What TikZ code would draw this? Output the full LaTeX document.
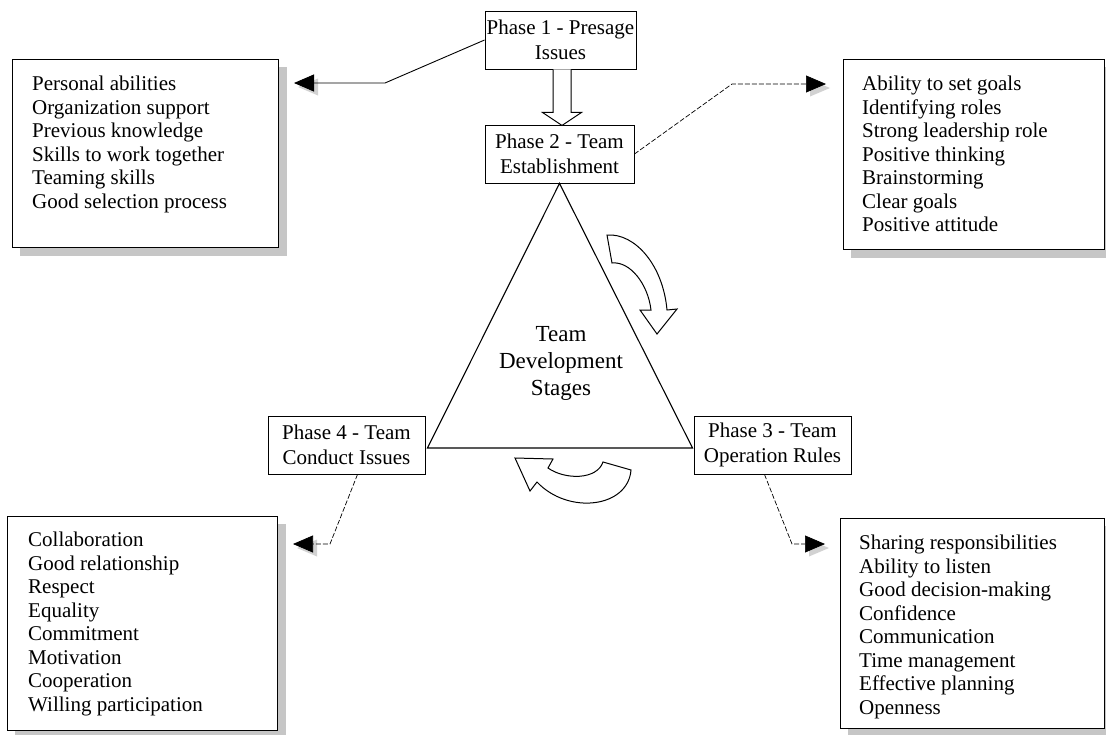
\documentclass[tikz,border=0pt]{standalone}
\usepackage{fontspec}
\setmainfont{Liberation Serif}
\usetikzlibrary{arrows.meta,calc,backgrounds}

\begin{document}
\begin{tikzpicture}[x=1pt,y=-1pt,
  phasebox/.style={draw, line width=0.9pt, inner sep=1pt, minimum height=58pt,
    align=center, font=\fontsize{21}{25}\selectfont},
  listbox/.style={draw, line width=0.9pt, fill=white, anchor=north west, inner sep=0pt},
  listtext/.style={anchor=north west, inner sep=0pt, align=left,
    font=\fontsize{21}{23.5}\selectfont},
  boxshadow/.style={fill=gray!45},
  tipshape/.style={-{Triangle[length=20pt,width=17pt]}},
  solidlink/.style={tipshape, line width=0.9pt},
  dashlink/.style={tipshape, line width=0.7pt, dash pattern=on 5pt off 2pt},
  tipshadow/.style={fill=gray!35},
  block/.style={draw, line width=1pt, fill=white, line join=miter}
]
\useasboundingbox (0,0) rectangle (1106,734);

% ---- phase boxes ----
\node[phasebox, minimum width=151pt] (p1) at (560.5,40) {Phase 1 - Presage\\Issues};
\node[phasebox, minimum width=149pt] (p2) at (559.5,154) {Phase 2 - Team\\Establishment};
\node[phasebox, minimum width=157pt] (p4) at (346.5,445) {Phase 4 - Team\\Conduct Issues};
\node[phasebox, minimum width=157pt] (p3) at (772.5,445) {Phase 3 - Team\\Operation Rules};

% ---- list boxes ----
\node[listbox, minimum width=266pt, minimum height=188pt] (l1) at (12,59) {};
\node[listbox, minimum width=261pt, minimum height=190pt] (l2) at (843,59) {};
\node[listbox, minimum width=270pt, minimum height=214pt] (l3) at (7,516) {};
\node[listbox, minimum width=264pt, minimum height=210pt] (l4) at (840,518) {};

\begin{scope}[on background layer]
  \foreach \b in {l1,l2,l3,l4}
    \fill[boxshadow] ($(\b.north west)+(8,8)$) rectangle ($(\b.south east)+(8,8)$);
\end{scope}

\node[listtext] (l1t) at ($(l1.north west)+(20,17)$) {Personal abilities\\Organization support\\Previous knowledge\\Skills to work together\\Teaming skills\\Good selection process};
\node[listtext] (l2t) at ($(l2.north west)+(19,17)$) {Ability to set goals\\Identifying roles\\Strong leadership role\\Positive thinking\\Brainstorming\\Clear goals\\Positive attitude};
\node[listtext] (l3t) at ($(l3.north west)+(21,16)$) {Collaboration\\Good relationship\\Respect\\Equality\\Commitment\\Motivation\\Cooperation\\Willing participation};
\node[listtext] (l4t) at ($(l4.north west)+(19,17)$) {Sharing responsibilities\\Ability to listen\\Good decision-making\\Confidence\\Communication\\Time management\\Effective planning\\Openness};

% ---- central triangle ----
\coordinate (tl) at ($(p4.east)+(2,3)$);
\coordinate (tr) at ($(p3.west)+(-1,3)$);
\draw[line width=1.1pt, line join=miter] (p2.south) -- (tr) -- (tl) -- cycle;
\node[align=center, font=\fontsize{23}{27}\selectfont] (tds) at (561,363) {Team\\Development\\Stages};

% ---- hollow arrow from phase 1 to phase 2 ----
\coordinate (bx) at ($(p1.south)+(1.5,0)$);
\draw[block] ($(bx)+(-9,0)$) -- ($(bx)+(-9,43)$) -- ($(bx)+(-19.5,43)$)
  -- ($(bx)+(0,56)$) -- ($(bx)+(19.5,43)$) -- ($(bx)+(9,43)$) -- ($(bx)+(9,0)$);

% ---- curved cycle arrows ----
\draw[block] (607,235) .. controls (635,233) and (663,265) .. (667,310)
  -- (677,309) -- (657,334) -- (640,310) -- (651,310)
  .. controls (648,284) and (630,261) .. (612,263) -- cycle;
\draw[block] (515,458) -- (553,459) -- (548,468)
  .. controls (565,480) and (597,480) .. (603,462) -- (631,470)
  .. controls (628,508) and (568,515) .. (537,482) -- (530,491) -- cycle;

% ---- connectors to the lists ----
\coordinate (k1) at (385,83);   \coordinate (t1) at (294,83);
\coordinate (k2) at (732,84);   \coordinate (t2) at (826,84);
\coordinate (k4) at (330,544);  \coordinate (t4) at (293,544);
\coordinate (k3) at (792,544);  \coordinate (t3) at (825,544);

\fill[tipshadow] ($(t1)+(4,4)$) -- ++(20,-8.5) -- ++(0,17) -- cycle;
\fill[tipshadow] ($(t2)+(4,4)$) -- ++(-20,-8.5) -- ++(0,17) -- cycle;
\fill[tipshadow] ($(t4)+(4,4)$) -- ++(20,-8.5) -- ++(0,17) -- cycle;
\fill[tipshadow] ($(t3)+(4,4)$) -- ++(-20,-8.5) -- ++(0,17) -- cycle;

\draw[solidlink] (p1.west) -- (k1) -- (t1);
\draw[dashlink] (p2.east) -- (k2) -- (t2);
\draw[dashlink] ($(p4.south)+(11,0)$) -- (k4) -- (t4);
\draw[dashlink] ($(p3.south)+(-8,0)$) -- (k3) -- (t3);
\end{tikzpicture}
\end{document}
